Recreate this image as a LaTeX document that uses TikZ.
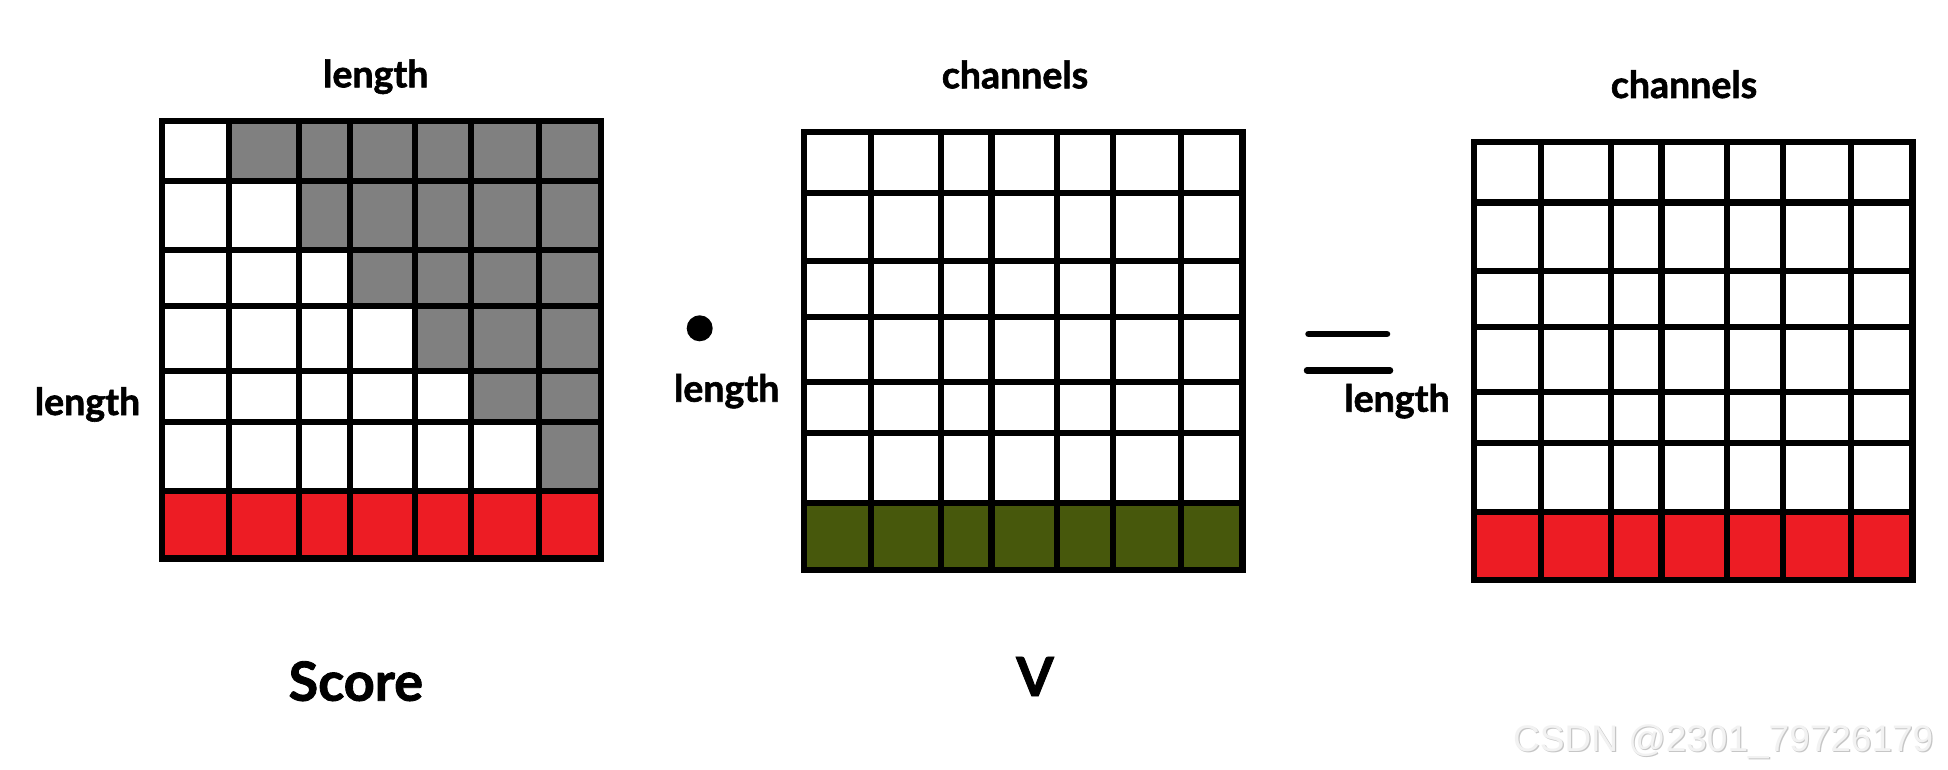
\documentclass[tikz,border=0pt]{standalone}
\usepackage{fontspec}
\setmainfont{Lato}[BoldFeatures={FakeBold=1.6}]
\newfontfamily\wmfont{Liberation Sans}
\definecolor{cellgray}{RGB}{128,128,128}
\definecolor{cellred}{RGB}{237,28,36}
\definecolor{cellolive}{RGB}{71,88,12}
\begin{document}
\begin{tikzpicture}[x=1pt,y=-1pt,
  gridline/.style={line width=6.2pt,line cap=rect,black},
  lbl/.style={font=\fontsize{37.5}{40}\selectfont\bfseries,inner sep=0pt,anchor=base},
  biglbl/.style={font=\fontsize{54}{58}\selectfont\bfseries,inner sep=0pt,anchor=base},
  eqline/.style={line width=6.5pt,line cap=round,black}]
\useasboundingbox (0,0) rectangle (1948,770);
\fill[white] (0,0) rectangle (1948,770);
\def\gx{{0,67,137,187.5,253,309,377,438.5}}
\def\gy{{0,60.5,129,185,250,301,370.3,437.7}}
\newcommand{\gridlines}{%
  \foreach \x in {0,67,137,187.5,253,309,377,438.5}
    \draw[gridline] (\x,0) -- (\x,437.7);
  \foreach \y in {0,60.5,129,185,250,301,370.3,437.7}
    \draw[gridline] (0,\y) -- (438.5,\y);}
% Score grid
\begin{scope}[shift={(162.3,120.7)}]
  \foreach \r in {0,...,5} {
    \pgfmathtruncatemacro\cs{\r+1}
    \foreach \c in {\cs,...,6} {
      \pgfmathsetmacro\xa{\gx[\c]}
      \pgfmathsetmacro\xb{\gx[\c+1]}
      \pgfmathsetmacro\ya{\gy[\r]}
      \pgfmathsetmacro\yb{\gy[\r+1]}
      \fill[cellgray] (\xa,\ya) rectangle (\xb,\yb);
    }
  }
  \fill[cellred] (0,370.3) rectangle (438.5,437.7);
  \gridlines
\end{scope}
% V grid
\begin{scope}[shift={(804,132.3)}]
  \fill[cellolive] (0,370.3) rectangle (438.5,437.7);
  \gridlines
\end{scope}
% result grid
\begin{scope}[shift={(1474,142)}]
  \fill[cellred] (0,370.3) rectangle (438.5,437.7);
  \gridlines
\end{scope}
% labels
\node[lbl] (lentop) at (375.8,87.3) {length};
\node[lbl] (lenleft) at (87.5,415) {length};
\node[lbl] (lenmid) at (726.7,401.7) {length};
\node[lbl] (lenright) at (1397,411.7) {length};
\node[lbl] (chmid) at (1015,88.3) {channels};
\node[lbl] (chright) at (1684,98) {channels};
\node[biglbl] (score) at (355.8,700.7) {Score};
\node[biglbl] (vlbl) at (1035,696) {V};
% dot operator
\fill[black] (699.7,328.3) circle (13);
% equals sign
\draw[eqline] (1308.5,334) -- (1387,334);
\draw[eqline] (1307,370.3) -- (1390,370.3);
% watermark
\node[font=\wmfont\fontsize{37}{40}\selectfont,text=gray!45,inner sep=0pt,anchor=base west] (wmshadow) at (1514.2,752.9) {CSDN @2301\_79726179};
\node[font=\wmfont\fontsize{37}{40}\selectfont,text=gray!10,inner sep=0pt,anchor=base west] (wm) at (1513,751.7) {CSDN @2301\_79726179};
\end{tikzpicture}
\end{document}
